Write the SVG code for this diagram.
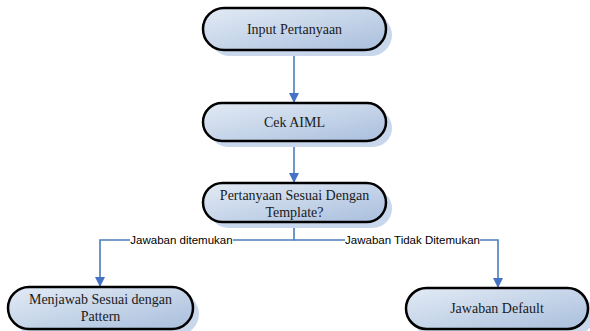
<svg xmlns="http://www.w3.org/2000/svg" width="590" height="331" viewBox="0 0 590 331">
<defs>
<linearGradient id="g" x1="0" y1="0" x2="1" y2="1">
<stop offset="0" stop-color="#e3ebf5"/>
<stop offset="1" stop-color="#a9bfdd"/>
</linearGradient>
<marker id="arr" markerWidth="10" markerHeight="10" refX="9" refY="5" orient="auto" markerUnits="userSpaceOnUse">
<path d="M0,0 L10,5 L0,10 Z" fill="#4472c4"/>
</marker>
<style>
.shadow{fill:#c9d7ec}
.box{fill:url(#g);stroke:#000;stroke-width:2.5}
.t{font-family:'Liberation Serif','Times New Roman',serif;font-size:14px;fill:#1a1a1a;text-anchor:middle}
.c{fill:none;stroke:#4a7ebb;stroke-width:1.6}
.lbl{font-family:'Liberation Sans',Arial,sans-serif;font-size:11.5px;fill:#000;text-anchor:middle}
</style>
</defs>
<g id="connectors">
<path class="c" d="M294,51 L294,102" marker-end="url(#arr)"/>
<path class="c" d="M294,141 L294,182" marker-end="url(#arr)"/>
<path class="c" d="M294,223 L294,240 L100,240 L100,286" marker-end="url(#arr)"/>
<path class="c" d="M294,240 L498,240 L498,287" marker-end="url(#arr)"/>
<rect x="130" y="233" width="103" height="14" fill="#fff"/>
<text class="lbl" x="181.5" y="244">Jawaban ditemukan</text>
<rect x="345" y="233" width="135" height="14" fill="#fff"/>
<text class="lbl" x="412.5" y="244">Jawaban Tidak Ditemukan</text>
</g>
<g id="n1">
<rect class="shadow" x="209" y="14" width="183" height="42" rx="21"/>
<rect class="box" x="203" y="8" width="183" height="42" rx="21"/>
<text class="t" x="294.5" y="34">Input Pertanyaan</text>
</g>
<g id="n2">
<rect class="shadow" x="209" y="109" width="183" height="38" rx="19"/>
<rect class="box" x="203" y="103" width="183" height="38" rx="19"/>
<text class="t" x="294.5" y="127">Cek AIML</text>
</g>
<g id="n3">
<rect class="shadow" x="209" y="189" width="183" height="39" rx="19.5"/>
<rect class="box" x="203" y="183" width="183" height="39" rx="19.5"/>
<text class="t" x="294.5" y="200">Pertanyaan Sesuai Dengan</text>
<text class="t" x="294.5" y="217">Template?</text>
</g>
<g id="n4">
<rect class="shadow" x="14" y="293" width="185" height="42" rx="21"/>
<rect class="box" x="8" y="287" width="185" height="42" rx="21"/>
<text class="t" x="100.5" y="304">Menjawab Sesuai dengan</text>
<text class="t" x="100.5" y="321">Pattern</text>
</g>
<g id="n5">
<rect class="shadow" x="412" y="294" width="182" height="42" rx="21"/>
<rect class="box" x="406" y="288" width="182" height="41" rx="20.5"/>
<text class="t" x="497" y="313">Jawaban Default</text>
</g>
</svg>
